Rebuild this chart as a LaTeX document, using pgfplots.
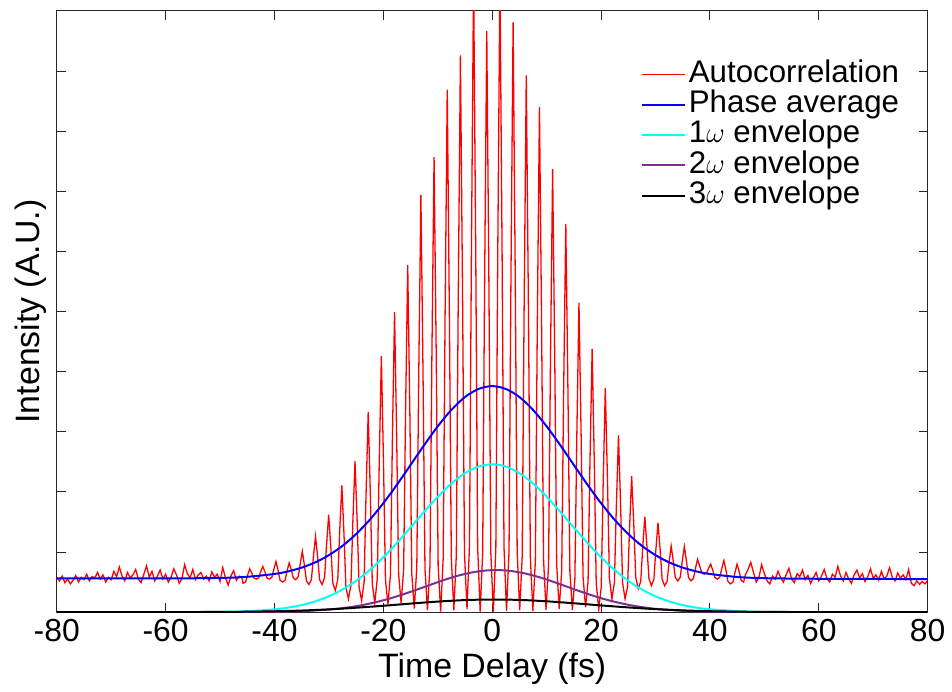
\documentclass[border=0pt]{standalone}
\usepackage{pgfplots}
\pgfplotsset{compat=1.18}
\usepackage{fontspec}
\setmainfont{Liberation Sans}
\definecolor{mpurple}{rgb}{0.494,0.184,0.556}
\definecolor{mcyan}{rgb}{0,1,1}
\definecolor{mred}{rgb}{1,0,0}
\definecolor{mblue}{rgb}{0,0,1}
\begin{document}
\begin{tikzpicture}
\begin{axis}[
  scale only axis, width=437.5pt, height=302pt,
  xmin=-80, xmax=80, ymin=0, ymax=10,
  xtick={-80,-60,-40,-20,0,20,40,60,80},
  ytick={0,1,2,3,4,5,6,7,8,9,10}, yticklabels={},
  tick align=inside, major tick length=4.5pt,
  axis line style={black!85, line width=0.5pt},
  every tick/.style={black!85, line width=0.5pt},
  /pgf/number format/assume math mode=true,
  tick label style={font=\fontsize{16}{19}\selectfont},
  label style={font=\fontsize{17}{20}\selectfont},
  xlabel={Time Delay (fs)}, ylabel={Intensity (A.U.)},
  xlabel style={yshift=1pt},
  ylabel style={at={(axis description cs:0,0.5)}, rotate=0, anchor=south, inner sep=0pt, yshift=5pt},
  legend cell align=left,
  legend image code/.code={\draw[#1] (0pt,0pt) -- (21.5pt,0pt);},
  legend style={draw=none, fill=none, at={(0.978,0.927)}, anchor=north east,
    font=\fontsize{15.7}{18}\selectfont, row sep=0pt,
    nodes={inner xsep=1.5pt, inner ysep=0pt, text height=11.5pt, text depth=3.75pt}},
]
\coordinate (tl) at (rel axis cs:0,1);
\coordinate (br) at (rel axis cs:1,0);
\addplot[mred, line width=0.65pt] coordinates {
(-80.0,0.58) (-79.5,0.52) (-79.0,0.60) (-78.5,0.49) (-78.0,0.55) (-77.5,0.47) (-77.0,0.53) (-76.5,0.61)
(-76.0,0.50) (-75.5,0.58) (-75.0,0.54) (-74.5,0.63) (-74.0,0.52) (-73.5,0.59) (-73.0,0.57) (-72.5,0.66)
(-72.0,0.55) (-71.5,0.62) (-71.0,0.50) (-70.5,0.58) (-70.0,0.54) (-69.5,0.68) (-69.0,0.59) (-68.5,0.75)
(-68.0,0.60) (-67.5,0.52) (-67.0,0.66) (-66.5,0.57) (-66.0,0.62) (-65.5,0.71) (-65.0,0.55) (-64.5,0.49)
(-64.0,0.63) (-63.5,0.77) (-63.0,0.58) (-62.5,0.68) (-62.0,0.52) (-61.5,0.60) (-61.0,0.70) (-60.5,0.55)
(-60.0,0.63) (-59.5,0.50) (-59.0,0.58) (-58.5,0.72) (-58.0,0.62) (-57.5,0.48) (-57.0,0.56) (-56.5,0.79)
(-56.0,0.64) (-55.5,0.57) (-55.0,0.71) (-54.5,0.54) (-54.0,0.62) (-53.5,0.66) (-53.0,0.55) (-52.5,0.60)
(-52.0,0.52) (-51.5,0.67) (-51.0,0.58) (-50.5,0.63) (-50.0,0.51) (-49.5,0.74) (-49.0,0.57) (-48.5,0.45)
(-48.0,0.60) (-47.5,0.69) (-47.0,0.53) (-46.5,0.60) (-46.0,0.58) (-45.77,0.48)
(-45.31,0.50) (-44.96,0.61) (-44.56,0.72) (-44.16,0.65) (-43.81,0.57) (-43.35,0.55)
(-42.89,0.57) (-42.54,0.67) (-42.14,0.76) (-41.74,0.67) (-41.39,0.57) (-40.93,0.55)
(-40.47,0.58) (-40.12,0.71) (-39.72,0.84) (-39.32,0.69) (-38.97,0.53) (-38.51,0.50)
(-38.05,0.53) (-37.70,0.68) (-37.30,0.82) (-36.90,0.70) (-36.55,0.57) (-36.09,0.54)
(-35.63,0.59) (-35.28,0.80) (-34.88,1.01) (-34.48,0.77) (-34.13,0.52) (-33.67,0.46)
(-33.21,0.54) (-32.86,0.91) (-32.46,1.26) (-32.06,0.91) (-31.71,0.54) (-31.25,0.46)
(-30.79,0.58) (-30.44,1.11) (-30.04,1.62) (-29.64,1.07) (-29.29,0.49) (-28.83,0.36)
(-28.37,0.54) (-28.02,1.34) (-27.62,2.11) (-27.22,1.28) (-26.87,0.41) (-26.41,0.22)
(-25.95,0.45) (-25.60,1.50) (-25.20,2.51) (-24.80,1.49) (-24.45,0.42) (-23.99,0.19)
(-23.53,0.50) (-23.18,1.95) (-22.78,3.33) (-22.38,1.93) (-22.03,0.47) (-21.57,0.15)
(-21.11,0.56) (-20.76,2.45) (-20.36,4.26) (-19.96,2.44) (-19.61,0.54) (-19.15,0.13)
(-18.69,0.62) (-18.34,2.85) (-17.94,4.99) (-17.54,2.86) (-17.19,0.63) (-16.73,0.15)
(-16.27,0.71) (-15.92,3.30) (-15.52,5.77) (-15.12,3.26) (-14.77,0.63) (-14.31,0.06)
(-13.85,0.75) (-13.50,3.91) (-13.10,6.94) (-12.70,3.90) (-12.35,0.72) (-11.89,0.03)
(-11.43,0.78) (-11.08,4.25) (-10.68,7.57) (-10.28,4.24) (-9.93,0.77) (-9.47,0.01)
(-9.01,0.88) (-8.66,4.87) (-8.26,8.69) (-7.86,4.88) (-7.51,0.90) (-7.05,0.03)
(-6.59,0.95) (-6.24,5.20) (-5.84,9.26) (-5.44,5.21) (-5.09,0.97) (-4.63,0.05)
(-4.17,1.11) (-3.82,5.96) (-3.42,10.6) (-3.02,5.94) (-2.67,1.07) (-2.21,0.01)
(-1.75,0.98) (-1.40,5.42) (-1.00,9.67) (-0.60,5.42) (-0.25,0.98) (0.21,0.01)
(0.67,1.07) (1.02,5.94) (1.42,10.6) (1.82,5.94) (2.17,1.08) (2.63,0.02)
(3.09,1.00) (3.44,5.50) (3.84,9.81) (4.24,5.51) (4.59,1.01) (5.05,0.03)
(5.51,0.92) (5.86,5.01) (6.26,8.93) (6.66,5.01) (7.01,0.91) (7.47,0.02)
(7.93,0.86) (8.28,4.71) (8.68,8.40) (9.08,4.72) (9.43,0.88) (9.89,0.04)
(10.35,0.77) (10.70,4.14) (11.10,7.37) (11.50,4.15) (11.85,0.78) (12.31,0.05)
(12.77,0.69) (13.12,3.64) (13.52,6.46) (13.92,3.64) (14.27,0.68) (14.73,0.04)
(15.19,0.55) (15.54,2.90) (15.94,5.15) (16.34,2.92) (16.69,0.59) (17.15,0.08)
(17.61,0.51) (17.96,2.49) (18.36,4.38) (18.76,2.47) (19.11,0.48) (19.57,0.05)
(20.03,0.42) (20.38,2.11) (20.78,3.73) (21.18,2.19) (21.53,0.57) (21.99,0.22)
(22.45,0.49) (22.80,1.74) (23.20,2.94) (23.60,1.74) (23.95,0.49) (24.41,0.22)
(24.87,0.42) (25.22,1.36) (25.62,2.26) (26.02,1.44) (26.37,0.58) (26.83,0.39)
(27.29,0.51) (27.64,1.06) (28.04,1.59) (28.44,1.08) (28.79,0.56) (29.25,0.44)
(29.71,0.55) (30.06,1.03) (30.46,1.49) (30.86,1.03) (31.21,0.55) (31.67,0.44)
(32.13,0.51) (32.48,0.81) (32.88,1.10) (33.28,0.84) (33.63,0.58) (34.09,0.52)
(34.55,0.58) (34.90,0.84) (35.30,1.09) (35.70,0.84) (36.05,0.58) (36.51,0.52)
(36.97,0.56) (37.32,0.72) (37.72,0.88) (38.12,0.77) (38.47,0.66) (38.93,0.63)
(39.39,0.65) (39.74,0.73) (40.14,0.80) (40.54,0.69) (40.89,0.58) (41.35,0.55)
(41.81,0.58) (42.16,0.72) (42.56,0.86) (42.96,0.69) (43.31,0.51) (43.77,0.47)
(44.23,0.50) (44.58,0.65) (44.98,0.80) (45.38,0.67) (45.73,0.53) (46.19,0.50)
(46.5,0.62) (47.0,0.71) (47.5,0.83) (48.0,0.66) (48.5,0.50) (49.0,0.58) (49.5,0.79) (50.0,0.64)
(50.5,0.52) (51.0,0.47) (51.5,0.60) (52.0,0.55) (52.5,0.68) (53.0,0.57) (53.5,0.50) (54.0,0.62)
(54.5,0.73) (55.0,0.55) (55.5,0.49) (56.0,0.64) (56.5,0.59) (57.0,0.70) (57.5,0.54) (58.0,0.61)
(58.5,0.48) (59.0,0.57) (59.5,0.66) (60.0,0.52) (60.5,0.60) (61.0,0.71) (61.5,0.56) (62.0,0.50)
(62.5,0.63) (63.0,0.58) (63.5,0.76) (64.0,0.60) (64.5,0.52) (65.0,0.66) (65.5,0.55) (66.0,0.48)
(66.5,0.62) (67.0,0.70) (67.5,0.57) (68.0,0.64) (68.5,0.51) (69.0,0.59) (69.5,0.72) (70.0,0.56)
(70.5,0.62) (71.0,0.53) (71.5,0.68) (72.0,0.55) (72.5,0.60) (73.0,0.74) (73.5,0.58) (74.0,0.52)
(74.5,0.65) (75.0,0.57) (75.5,0.62) (76.0,0.54) (76.5,0.71) (77.0,0.48) (77.5,0.44) (78.0,0.52)
(78.5,0.46) (79.0,0.51) (79.5,0.47) (80.0,0.53)
};
\addlegendentry{Autocorrelation}
\addplot[mblue, line width=1pt, smooth] coordinates {
(-80,0.56) (-60,0.561) (-50,0.569) (-45,0.588) (-40,0.635) (-37.5,0.678) (-35,0.741) (-32.5,0.828)
(-30,0.948) (-27.5,1.103) (-25,1.299) (-22.5,1.536) (-20,1.812) (-17.5,2.120) (-15,2.448) (-12.5,2.778)
(-10,3.091) (-7.5,3.364) (-5,3.578) (-2.5,3.713) (0,3.76) (2.5,3.713) (5,3.578) (7.5,3.364) (10,3.091)
(12.5,2.778) (15,2.448) (17.5,2.120) (20,1.812) (22.5,1.536) (25,1.299) (27.5,1.103) (30,0.948)
(32.5,0.828) (35,0.741) (37.5,0.678) (40,0.635) (45,0.585) (50,0.565) (60,0.555) (80,0.55)
};
\addlegendentry{Phase average}
\addplot[mcyan, line width=1pt, smooth] coordinates {
(-80,0) (-60,0) (-55,0.001) (-50,0.005) (-45,0.016) (-40,0.047) (-37.5,0.075) (-35,0.118) (-32.5,0.179)
(-30,0.264) (-27.5,0.377) (-25,0.522) (-22.5,0.701) (-20,0.912) (-17.5,1.151) (-15,1.408) (-12.5,1.670)
(-10,1.920) (-7.5,2.140) (-5,2.312) (-2.5,2.422) (0,2.46) (2.5,2.422) (5,2.312) (7.5,2.140) (10,1.920)
(12.5,1.670) (15,1.408) (17.5,1.151) (20,0.912) (22.5,0.701) (25,0.522) (27.5,0.377) (30,0.264)
(32.5,0.179) (35,0.118) (37.5,0.075) (40,0.047) (45,0.016) (50,0.005) (55,0.001) (60,0) (80,0)
};
\addlegendentry{1$\omega$ envelope}
\addplot[mpurple, line width=1pt, smooth] coordinates {
(-80,0) (-49.3,0.0) (-44.3,0.002) (-39.3,0.006) (-34.3,0.019) (-29.3,0.049) (-26.8,0.075) (-24.3,0.110)
(-21.8,0.157) (-19.3,0.214) (-16.8,0.283) (-14.3,0.360) (-11.8,0.441) (-9.3,0.521) (-6.8,0.593)
(-4.3,0.650) (-1.8,0.687) (0.7,0.70) (3.2,0.687) (5.7,0.650) (8.2,0.593) (10.7,0.521) (13.2,0.441)
(15.7,0.360) (18.2,0.283) (20.7,0.214) (23.2,0.157) (25.7,0.110) (28.2,0.075) (30.7,0.049) (35.7,0.019)
(40.7,0.006) (45.7,0.002) (50.7,0) (80,0)
};
\addlegendentry{2$\omega$ envelope}
\addplot[black, line width=1pt, smooth] coordinates {
(-80,0) (-59.6,0.001) (-49.6,0.004) (-44.6,0.008) (-39.6,0.015) (-34.6,0.028) (-29.6,0.048) (-24.6,0.076)
(-19.6,0.109) (-14.6,0.145) (-9.6,0.178) (-4.6,0.202) (0.4,0.21) (5.4,0.202) (10.4,0.178) (15.4,0.145)
(20.4,0.109) (25.4,0.076) (30.4,0.048) (35.4,0.028) (40.4,0.015) (45.4,0.008) (50.4,0.004) (60.4,0.001) (80,0)
};
\addlegendentry{3$\omega$ envelope}
\end{axis}
\path (tl) ++(-28.5pt,5.5pt);
\path (br) ++(10pt,0);
\end{tikzpicture}
\end{document}
